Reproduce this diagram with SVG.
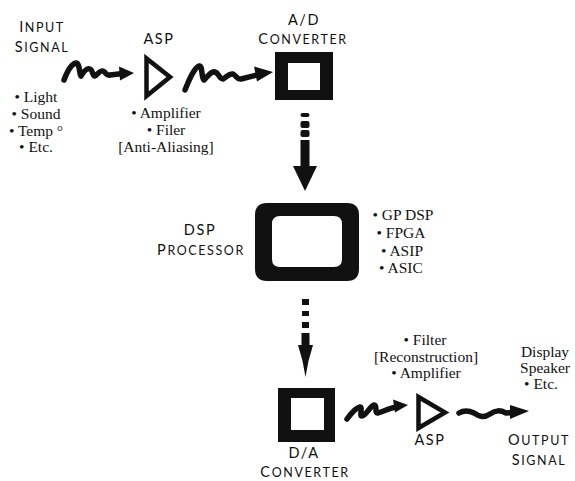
<svg xmlns="http://www.w3.org/2000/svg" width="575" height="481" viewBox="0 0 575 481">
  <style>
    .cap { font-family: Lato, "Open Sans", "DejaVu Sans", sans-serif; font-size: 12.5px; letter-spacing: 1.6px; fill: #111; text-anchor: middle; }
    .cap .big { font-size: 14.5px; }
    .lst { font-family: "Liberation Serif", "Times New Roman", serif; font-size: 15.5px; fill: #111; text-anchor: middle; }
    .wave { fill: none; stroke: #111; stroke-width: 5.5; stroke-linecap: round; stroke-linejoin: round; }
    .tri { fill: none; stroke: #111; stroke-width: 4.5; stroke-linejoin: miter; }
    .ink { fill: #111; }
  </style>

  <!-- signal source -->
  <g id="input-signal">
    <text class="cap" x="42" y="32"><tspan class="big">I</tspan>NPUT</text>
    <text class="cap" x="42" y="52"><tspan class="big">S</tspan>IGNAL</text>
    <text class="lst" x="36" y="102">• Light</text>
    <text class="lst" x="36" y="119">• Sound</text>
    <text class="lst" x="36" y="135.5">• Temp °</text>
    <text class="lst" x="36" y="152">• Etc.</text>
  </g>

  <!-- analog front end -->
  <g id="asp-in">
    <text class="cap" x="159" y="44"><tspan class="big">ASP</tspan></text>
    <polygon class="tri" points="146.5,58.5 146.5,96 170,77"/>
    <text class="lst" x="166" y="118">• Amplifier</text>
    <text class="lst" x="166" y="135">• Filer</text>
    <text class="lst" x="166" y="152">[Anti-Aliasing]</text>
  </g>

  <!-- A/D converter -->
  <g id="ad-converter">
    <text class="cap" x="304" y="25"><tspan class="big">A/D</tspan></text>
    <text class="cap" x="303" y="43.5"><tspan class="big">C</tspan>ONVERTER</text>
    <path class="ink" fill-rule="evenodd" d="M275,52 H333 V100 H275 Z M288,63 V90 H320 V63 Z"/>
  </g>

  <!-- processor -->
  <g id="dsp">
    <text class="cap" x="200" y="235"><tspan class="big">DSP</tspan></text>
    <text class="cap" x="201" y="255"><tspan class="big">P</tspan>ROCESSOR</text>
    <path class="ink" fill-rule="evenodd" d="M267,203 H347 Q359,203 359,215 V269 Q359,281 347,281 H267 Q255,281 255,269 V215 Q255,203 267,203 Z M280,216 Q272,216 272,224 V259 Q272,267 280,267 H334 Q342,267 342,259 V224 Q342,216 334,216 Z"/>
    <text class="lst" x="403" y="220">• GP DSP</text>
    <text class="lst" x="401" y="238">• FPGA</text>
    <text class="lst" x="402" y="256">• ASIP</text>
    <text class="lst" x="401" y="273">• ASIC</text>
  </g>

  <!-- D/A converter -->
  <g id="da-converter">
    <path class="ink" fill-rule="evenodd" d="M278,388 H335 V442 H278 Z M291,398 V430 H324 V398 Z"/>
    <text class="cap" x="304" y="458"><tspan class="big">D/A</tspan></text>
    <text class="cap" x="305" y="477"><tspan class="big">C</tspan>ONVERTER</text>
  </g>

  <!-- reconstruction stage -->
  <g id="asp-out">
    <text class="lst" x="425" y="345">• Filter</text>
    <text class="lst" x="426" y="362">[Reconstruction]</text>
    <text class="lst" x="426" y="378">• Amplifier</text>
    <polygon class="tri" points="418.5,397 418.5,428 445,412.5"/>
    <text class="cap" x="430" y="445"><tspan class="big">ASP</tspan></text>
  </g>

  <!-- signal sink -->
  <g id="output-signal">
    <text class="lst" x="545" y="357">Display</text>
    <text class="lst" x="545" y="373">Speaker</text>
    <text class="lst" x="541" y="389">• Etc.</text>
    <text class="cap" x="539" y="445"><tspan class="big">O</tspan>UTPUT</text>
    <text class="cap" x="539" y="465"><tspan class="big">S</tspan>IGNAL</text>
  </g>

  <g id="connectors">
    <!-- analog wave into the front end -->
    <path class="wave" d="M64,80 C67,72 71,64 76,63 C80,63 79,74 81,76 C84,71 87,68 90,69 C93,70 92,76 95,76 C98,74 100,70 103,71 C106,72 106,76 110,75 L123,73.5"/>
    <polygon class="ink" points="119,66.5 134,73 120,80.5"/>
    <!-- filtered wave into the A/D -->
    <path class="wave" d="M185,90 C189,80 194,68 199,66 C203,65 201,78 204,80 C208,76 211,71 215,72 C219,73 219,79 223,79 C227,77 229,73 233,74 C236,75 237,80 241,79 L259,74.5"/>
    <polygon class="ink" points="254,66.5 273,72 257,81.5"/>
    <!-- A/D to DSP -->
    <rect class="ink" x="300.5" y="113" width="9" height="4" rx="2"/>
    <rect class="ink" x="300.5" y="121" width="9" height="7" rx="2"/>
    <rect class="ink" x="300.5" y="130" width="9" height="7" rx="2"/>
    <rect class="ink" x="300.5" y="140" width="9" height="28"/>
    <polygon class="ink" points="293,166 317,166 305,191"/>
    <!-- DSP to D/A -->
    <rect class="ink" x="302" y="299" width="7" height="6"/>
    <rect class="ink" x="302" y="311" width="7" height="5"/>
    <rect class="ink" x="302" y="322" width="7" height="6"/>
    <rect class="ink" x="301.5" y="333" width="8" height="14"/>
    <path class="ink" d="M298,345 L313,345 Q308,360 305.5,377 Q303,360 298,345 Z"/>
    <!-- D/A output into the reconstruction stage -->
    <path class="wave" d="M347,419 C352,412 356,408 360,407 C363,407 359,416 362,416 C366,416 370,406 374,405 C378,405 374,414 378,413 C384,411 390,408 398,406.5"/>
    <polygon class="ink" points="393,399.5 408,405 395,412.5"/>
    <!-- smooth output wave -->
    <path class="wave" d="M459,413 C464,410 468,410 474,413 C480,417 484,418 490,414 C496,410 500,410 506,413 L514,412.5"/>
    <polygon class="ink" points="510,405 529,411 510,419"/>
  </g>
</svg>
